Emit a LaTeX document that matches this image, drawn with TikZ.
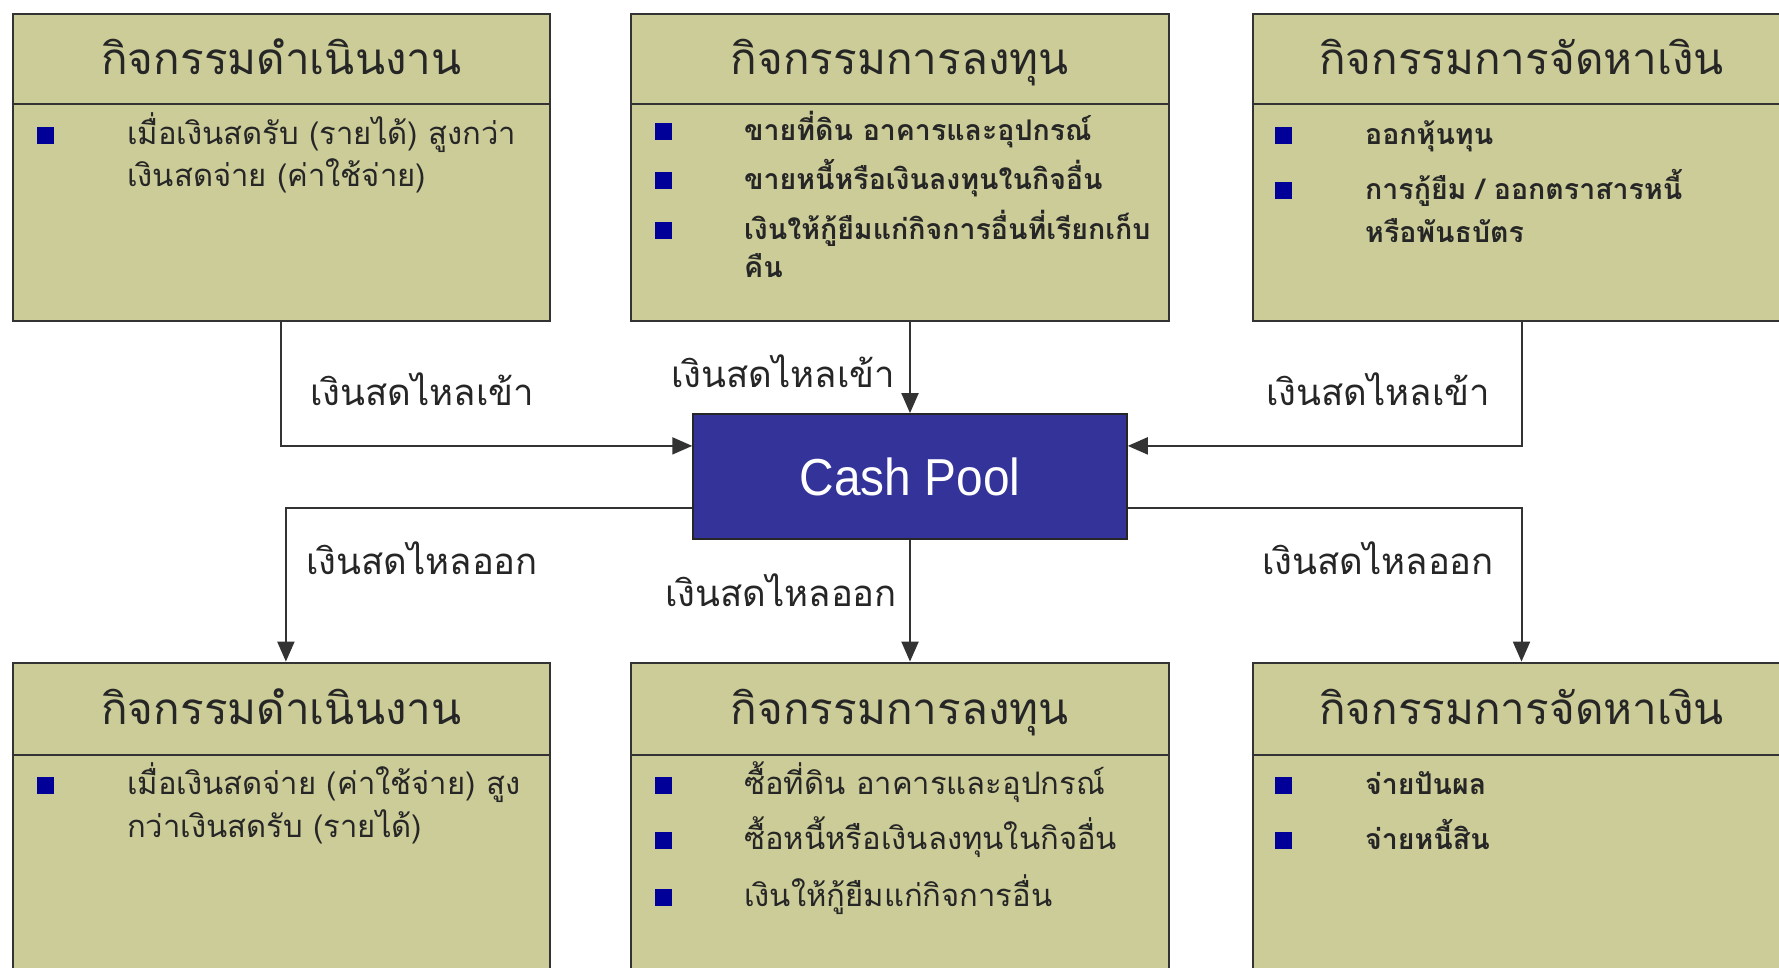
\documentclass[tikz,border=0pt]{standalone}
\usepackage{fontspec}
\setmainfont{Liberation Sans}
\newfontfamily\thai[Script=Thai]{Loma}
\usetikzlibrary{arrows.meta}
\definecolor{khaki}{HTML}{CCCC99}
\definecolor{poolblue}{HTML}{333399}
\definecolor{bulletblue}{HTML}{000099}
\definecolor{edge}{HTML}{333333}
\tikzset{
  panel/.style={draw=edge, line width=2pt, fill=khaki, rectangle, minimum width=537.8pt, inner sep=0pt},
  divider/.style={draw=edge, line width=2pt},
  title/.style={font=\thai\fontsize{44}{52}\selectfont, text=black!85, anchor=base, inner sep=0pt},
  item/.style={font=\thai\fontsize{31}{36}\selectfont, text=black!85, anchor=base west, inner sep=0pt},
  itembold/.style={item, font=\thai\bfseries\fontsize{28.5}{36}\selectfont},
  bul/.style={fill=bulletblue, draw=none, minimum size=17pt, inner sep=0pt, rectangle},
  flowlabel/.style={font=\thai\fontsize{36.5}{44}\selectfont, text=black!85, inner sep=0pt},
  conn/.style={draw=edge, line width=2pt, -{Triangle[length=20pt,width=17pt]}},
  pool/.style={draw=black!85, line width=2pt, fill=poolblue, minimum width=433.5pt, minimum height=124.8pt, inner sep=0pt, text=white, font=\fontsize{52}{60}\selectfont}
}
\begin{document}
\begin{tikzpicture}[x=1pt,y=-1pt]
\clip (0,0) rectangle (1779,968);
\fill[white] (0,0) rectangle (1779,968);
% top panels
\node[panel, minimum height=307.5pt] (tl) at (281.4,167.35) {};
\node[panel, minimum height=307.5pt] (tm) at (899.7,167.35) {};
\node[panel, minimum height=307.5pt] (tr) at (1521.5,167.35) {};
% bottom panels
\node[panel, minimum height=337.4pt] (bl) at (281.4,831.3) {};
\node[panel, minimum height=337.4pt] (bm) at (899.7,831.3) {};
\node[panel, minimum height=337.4pt] (br) at (1521.5,831.3) {};
% dividers
\draw[divider] (tl.north west) ++(0,91.9) -- ++(537.8,0);
\draw[divider] (tm.north west) ++(0,91.9) -- ++(537.8,0);
\draw[divider] (tr.north west) ++(0,91.9) -- ++(537.8,0);
\draw[divider] (bl.north west) ++(0,93) -- ++(537.8,0);
\draw[divider] (bm.north west) ++(0,93) -- ++(537.8,0);
\draw[divider] (br.north west) ++(0,93) -- ++(537.8,0);
% titles
\node[title] (tlt) at (281.4,75) {กิจกรรมดำเนินงาน};
\node[title] (tmt) at (899.7,75) {กิจกรรมการลงทุน};
\node[title] (trt) at (1521.5,75) {กิจกรรมการจัดหาเงิน};
\node[title] (blt) at (281.4,724) {กิจกรรมดำเนินงาน};
\node[title] (bmt) at (899.7,724) {กิจกรรมการลงทุน};
\node[title] (brt) at (1521.5,724) {กิจกรรมการจัดหาเงิน};
% top-left items
\node[bul] (b1) at (45,136) {};
\node[item] (t1a) at (127,145) {เมื่อเงินสดรับ (รายได้) สูงกว่า};
\node[item] (t1b) at (127,187) {เงินสดจ่าย (ค่าใช้จ่าย)};
% top-middle items
\node[bul] (b2) at (663,131.6) {};
\node[bul] (b3) at (663,180.4) {};
\node[bul] (b4) at (663,230.3) {};
\node[itembold] (t2) at (744,140.6) {ขายที่ดิน อาคารและอุปกรณ์};
\node[itembold] (t3) at (744,189.4) {ขายหนี้หรือเงินลงทุนในกิจอื่น};
\node[itembold] (t4a) at (744,239.3) {เงินให้กู้ยืมแก่กิจการอื่นที่เรียกเก็บ};
\node[itembold] (t4b) at (744,277.9) {คืน};
% top-right items
\node[bul] (b5) at (1283,136) {};
\node[bul] (b6) at (1283,190.6) {};
\node[itembold] (t5) at (1365,145) {ออกหุ้นทุน};
\node[itembold] (t6a) at (1365,199.6) {การกู้ยืม / ออกตราสารหนี้};
\node[itembold] (t6b) at (1365,242.7) {หรือพันธบัตร};
% bottom-left items
\node[bul] (b7) at (45,785) {};
\node[item] (t7a) at (127,794) {เมื่อเงินสดจ่าย (ค่าใช้จ่าย) สูง};
\node[item] (t7b) at (127,837) {กว่าเงินสดรับ (รายได้)};
% bottom-middle items
\node[bul] (b8) at (663,785) {};
\node[bul] (b9) at (663,840.7) {};
\node[bul] (b10) at (663,897.5) {};
\node[item] (t8) at (744,794) {ซื้อที่ดิน อาคารและอุปกรณ์};
\node[item] (t9) at (744,849.7) {ซื้อหนี้หรือเงินลงทุนในกิจอื่น};
\node[item] (t10) at (744,906.5) {เงินให้กู้ยืมแก่กิจการอื่น};
% bottom-right items
\node[bul] (b11) at (1283,785) {};
\node[bul] (b12) at (1283,840.7) {};
\node[itembold] (t11) at (1365,794) {จ่ายปันผล};
\node[itembold] (t12) at (1365,849.7) {จ่ายหนี้สิน};
% cash pool
\node[pool] (cp) at (910,476.5) {\scalebox{0.92}[1]{Cash Pool}};
% connectors
\draw[conn] (tl.south) |- ([yshift=30.6pt]cp.west);
\draw[conn] (tm.south -| cp.north) -- (cp.north);
\draw[conn] (tr.south) |- ([yshift=30.6pt]cp.east);
\draw[conn] ([yshift=-31.8pt]cp.west) -| ([xshift=4.5pt]bl.north);
\draw[conn] (cp.south) -- (cp.south |- bm.north);
\draw[conn] ([yshift=-31.8pt]cp.east) -| (br.north);
% flow labels
\node[flowlabel] (l1) at (422,389) {เงินสดไหลเข้า};
\node[flowlabel] (l2) at (783,371) {เงินสดไหลเข้า};
\node[flowlabel] (l3) at (1378,389) {เงินสดไหลเข้า};
\node[flowlabel] (l4) at (422,558) {เงินสดไหลออก};
\node[flowlabel] (l5) at (781,590) {เงินสดไหลออก};
\node[flowlabel] (l6) at (1378,558) {เงินสดไหลออก};
\end{tikzpicture}
\end{document}
